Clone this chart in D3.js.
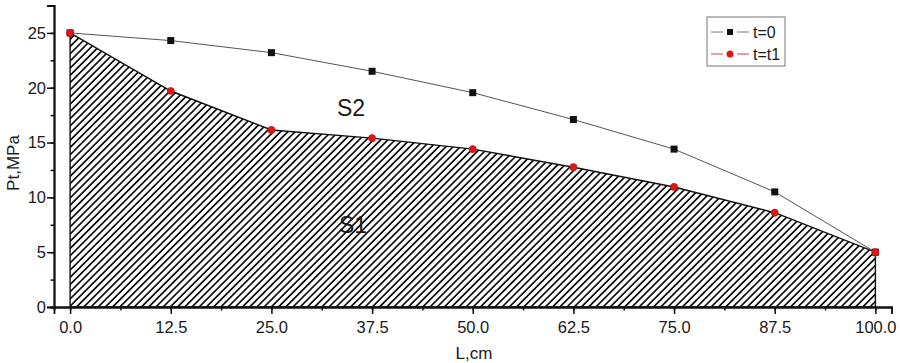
<!DOCTYPE html>
<html>
<head>
<meta charset="utf-8">
<script src="https://cdn.jsdelivr.net/npm/d3@7"></script>
<style>
  body { margin: 0; background: #fff; }
  text { font-family: "Liberation Sans", Arial, sans-serif; }
</style>
</head>
<body>
<div id="chart"></div>
<script>
const lengths = [0, 12.5, 25, 37.5, 50, 62.5, 75, 87.5, 100];
const pressureT0 = [25, 24.3, 23.2, 21.5, 19.55, 17.1, 14.4, 10.5, 5.0];
const pressureT1 = [25, 19.7, 16.15, 15.4, 14.4, 12.75, 10.95, 8.6, 5.0];
const xTicks = [0, 12.5, 25, 37.5, 50, 62.5, 75, 87.5, 100];
const yTicks = [0, 5, 10, 15, 20, 25];
const seriesNames = ['t=0', 't=t1'];

const width = 900, height = 363;
const svg = d3.select('#chart').append('svg')
    .attr('width', width)
    .attr('height', height);

const x = d3.scaleLinear().domain([-2, 102]).range([54, 891.5]);
const y = d3.scaleLinear().domain([0, 27.5]).range([307, 5.5]);

const t0 = lengths.map((l, i) => ({x: l, y: pressureT0[i]}));
const t1 = lengths.map((l, i) => ({x: l, y: pressureT1[i]}));

// hatch pattern
const defs = svg.append('defs');
const pat = defs.append('pattern')
    .attr('id', 'hatch')
    .attr('patternUnits', 'userSpaceOnUse')
    .attr('width', 5.1)
    .attr('height', 5.1)
    .attr('patternTransform', 'rotate(45)');
pat.append('rect').attr('width', 5.1).attr('height', 5.1).attr('fill', '#fff');
pat.append('line')
    .attr('x1', 0.9).attr('y1', 0).attr('x2', 0.9).attr('y2', 5.1)
    .attr('stroke', '#000').attr('stroke-width', 1.6);

// S1 area
const area = d3.area()
    .x(d => x(d.x))
    .y0(y(0))
    .y1(d => y(d.y));
svg.append('path')
    .datum(t1)
    .attr('d', area)
    .attr('fill', 'url(#hatch)')
    .attr('stroke', '#111')
    .attr('stroke-width', 1.4);

// axes
const xAxis = svg.append('g')
    .attr('transform', `translate(0,${y(0)})`)
    .call(d3.axisBottom(x).tickValues(d3.range(0, 101, 6.25)).tickSize(3.5).tickFormat(''));
xAxis.append('g').call(d3.axisBottom(x).tickValues(xTicks).tickSize(7).tickFormat(d3.format('.1f')));
const yAxis = svg.append('g')
    .attr('transform', `translate(${x(-2)},0)`)
    .call(d3.axisLeft(y).tickValues(d3.range(0, 27.6, 2.5)).tickSize(3.5).tickFormat(''));
yAxis.append('g').call(d3.axisLeft(y).tickValues(yTicks).tickSize(7));

svg.selectAll('.domain').attr('stroke', '#111').attr('stroke-width', 1.8);
svg.selectAll('.tick line').attr('stroke', '#111').attr('stroke-width', 1.5);
svg.selectAll('.tick text')
    .attr('fill', '#1a1a1a')
    .style('font-size', '16.5px');
xAxis.selectAll('.tick text').attr('dy', '0.95em');
yAxis.selectAll('.tick text').attr('x', -8);

// axis titles
svg.append('text')
    .attr('x', 474).attr('y', 359)
    .attr('text-anchor', 'middle')
    .style('font-size', '17px')
    .attr('fill', '#1a1a1a')
    .text('L,cm');
svg.append('text')
    .attr('transform', 'translate(19,163) rotate(-90)')
    .attr('text-anchor', 'middle')
    .style('font-size', '17px')
    .attr('fill', '#1a1a1a')
    .text('Pt,MPa');

// t=0 series
const line = d3.line().x(d => x(d.x)).y(d => y(d.y));
svg.append('path')
    .datum(t0)
    .attr('d', line)
    .attr('fill', 'none')
    .attr('stroke', '#555')
    .attr('stroke-width', 1);
svg.append('g').selectAll('rect')
    .data(t0)
    .enter().append('rect')
    .attr('x', d => x(d.x) - 3.5)
    .attr('y', d => y(d.y) - 3.5)
    .attr('width', 7)
    .attr('height', 7)
    .attr('fill', '#111');

// t=t1 series markers
svg.append('g').selectAll('circle')
    .data(t1)
    .enter().append('circle')
    .attr('cx', d => x(d.x))
    .attr('cy', d => y(d.y))
    .attr('r', 3.6)
    .attr('fill', '#e0161b')
    .attr('stroke', '#b01010')
    .attr('stroke-width', 0.6);

// region labels
svg.append('text').attr('x', 351).attr('y', 116)
    .attr('text-anchor', 'middle').style('font-size', '23px').attr('fill', '#1a1a1a').text('S2');
svg.append('text').attr('x', 353).attr('y', 233)
    .attr('text-anchor', 'middle').style('font-size', '23px').attr('fill', '#1a1a1a').text('S1');

// legend
const legend = svg.append('g').attr('transform', 'translate(707,17)');
legend.append('rect')
    .attr('width', 78).attr('height', 49)
    .attr('fill', '#fff').attr('stroke', '#777').attr('stroke-width', 1);
const items = legend.selectAll('g.item')
    .data(seriesNames)
    .enter().append('g')
    .attr('class', 'item')
    .attr('transform', (d, i) => `translate(0,${15 + i * 22})`);
items.append('line')
    .attr('x1', 4).attr('x2', 42)
    .attr('stroke', (d, i) => i === 0 ? '#777' : '#d04050')
    .attr('stroke-width', 1);
items.append('rect')
    .attr('x', 16).attr('y', -4).attr('width', 14).attr('height', 8)
    .attr('fill', '#fff');
items.append('rect')
    .attr('x', 20).attr('y', -3).attr('width', 6).attr('height', 6)
    .attr('fill', (d, i) => i === 0 ? '#111' : 'none');
items.append('circle')
    .attr('cx', 23).attr('r', (d, i) => i === 1 ? 3.5 : 0)
    .attr('fill', '#e0161b');
items.append('text')
    .attr('x', 46).attr('y', 6)
    .style('font-size', '16px')
    .attr('fill', '#1a1a1a')
    .text(d => d);
</script>
</body>
</html>
